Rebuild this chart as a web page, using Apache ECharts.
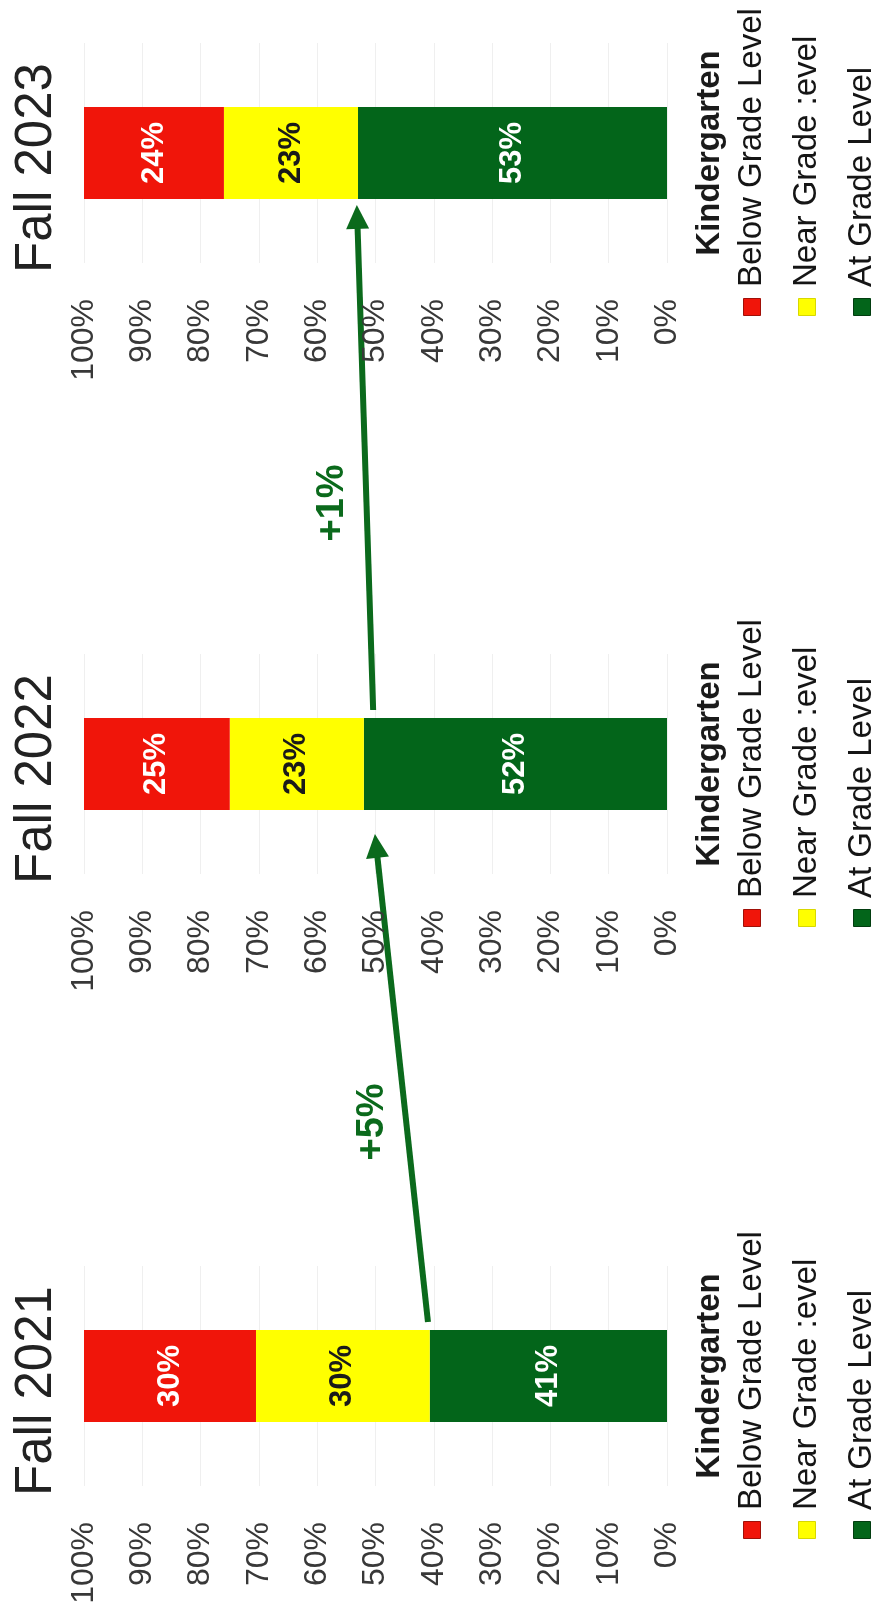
<!DOCTYPE html>
<html>
<head>
<meta charset="utf-8">
<script src="https://cdn.jsdelivr.net/npm/echarts@6/dist/echarts.min.js"></script>
<style>
  html, body { margin: 0; padding: 0; background: #ffffff; }
  #chart { width: 874px; height: 1612px; }
</style>
</head>
<body>
<div id="chart"></div>
<script>
// ---------- data ----------
const seasons = ['Fall 2021', 'Fall 2022', 'Fall 2023'];
const categories = ['Kindergarten'];
const seriesNames = ['Below Grade Level', 'Near Grade :evel', 'At Grade Level'];
const belowGrade = [29.5, 25, 24];
const nearGrade = [29.8, 23, 23];
const atGrade = [40.7, 52, 53];
const changeLabels = ['+5%', '+1%'];
const changeFrom = [41, 50.4];
const changeTo = [50.1, 53.2];

// ---------- layout / style ----------
const FONT = 'Liberation Sans, Arial, Helvetica, sans-serif';
const ROT = Math.PI / 2;
const panelCenter = [1376, 764, 153];
const plotLeft = 84, plotWidth = 583, plotHalf = 110, barW = 92;
const colors = { below: '#f0150a', near: '#ffff00', at: '#03651a' };
const arrowColor = '#0b6a1c';
const tipGap = [24, 6];

const chart = echarts.init(document.getElementById('chart'));

const grids = [], xAxes = [], yAxes = [], series = [];
seasons.forEach((s, k) => {
  const c = panelCenter[k];
  grids.push({ left: plotLeft, width: plotWidth, top: c - plotHalf, height: plotHalf * 2, containLabel: false, outerBoundsMode: 'none' });
  xAxes.push({
    type: 'value', gridIndex: k, min: 0, max: 100, interval: 10, inverse: true,
    axisLine: { show: false }, axisTick: { show: false },
    splitLine: { show: true, lineStyle: { color: '#efefef', width: 1 } },
    axisLabel: { formatter: '{value}%', rotate: 90, margin: 36, fontSize: 32, color: '#383838', fontFamily: FONT }
  });
  yAxes.push({
    type: 'category', gridIndex: k, data: categories, position: 'right',
    axisLine: { show: false }, axisTick: { show: false },
    axisLabel: { rotate: 90, align: 'center', verticalAlign: 'middle', margin: 43,
      fontSize: 33, fontWeight: 'bold', color: '#1a1a1a', fontFamily: FONT }
  });
  const seg = (name, vals, color, labelColor) => ({
    type: 'bar', name: name, xAxisIndex: k, yAxisIndex: k, stack: 'p' + k,
    barWidth: barW, data: [vals[k]],
    itemStyle: { color: color },
    label: { show: true, position: 'inside', rotate: 90,
      formatter: p => Math.round(p.value) + '%',
      color: labelColor, fontSize: 31, fontWeight: 'bold', fontFamily: FONT },
    emphasis: { disabled: true }
  });
  series.push(seg(seriesNames[2], atGrade, colors.at, '#ffffff'));
  series.push(seg(seriesNames[1], nearGrade, colors.near, '#1a1a1a'));
  series.push(seg(seriesNames[0], belowGrade, colors.below, '#ffffff'));
});

chart.setOption({
  animation: false,
  backgroundColor: '#ffffff',
  grid: grids, xAxis: xAxes, yAxis: yAxes, series: series
});

// ---------- annotations (titles, legends, arrows) ----------
const g = [];
const legendColors = [colors.below, colors.near, colors.at];
const legendStroke = ['#a01008', '#d8d800', '#023d10'];
seasons.forEach((s, k) => {
  const c = panelCenter[k];
  g.push({ type: 'text', x: 37, y: c + 15, rotation: ROT,
    style: { text: s, font: '51px ' + FONT, fill: '#222222', align: 'center', verticalAlign: 'middle' } });
  seriesNames.forEach((n, i) => {
    const lx = plotLeft + plotWidth + 85 + i * 55;
    g.push({ type: 'rect', x: lx, y: c + 154, shape: { x: -8.5, y: -8.5, width: 17, height: 17 },
      style: { fill: legendColors[i], stroke: legendStroke[i], lineWidth: 1 } });
    g.push({ type: 'text', x: lx, y: c + 134, rotation: ROT,
      style: { text: n, font: '33px ' + FONT, fill: '#151515', align: 'left', verticalAlign: 'middle' } });
  });
});

changeLabels.forEach((lab, k) => {
  const x1 = chart.convertToPixel({ xAxisIndex: k }, changeFrom[k]);
  const y1 = panelCenter[k] - barW / 2 - 8;
  const x2 = chart.convertToPixel({ xAxisIndex: k + 1 }, changeTo[k]);
  const y2 = panelCenter[k + 1] + barW / 2 + tipGap[k];
  const dx = x2 - x1, dy = y2 - y1, len = Math.hypot(dx, dy);
  const ux = dx / len, uy = dy / len, nx = -uy, ny = ux;
  const headL = 24, headW = 23;
  const bx = x2 - ux * headL, by = y2 - uy * headL;
  g.push({ type: 'line', shape: { x1: x1, y1: y1, x2: bx + ux * 2, y2: by + uy * 2 },
    style: { stroke: arrowColor, lineWidth: 6 } });
  g.push({ type: 'polygon', shape: { points: [[x2, y2], [bx + nx * headW / 2, by + ny * headW / 2], [bx - nx * headW / 2, by - ny * headW / 2]] },
    style: { fill: arrowColor } });
  const t = 0.41;
  g.push({ type: 'text', x: x1 + dx * t - 34, y: y1 + dy * t, rotation: ROT,
    style: { text: lab, font: 'bold 38px ' + FONT, fill: '#0b6a1c', align: 'center', verticalAlign: 'middle' } });
});

chart.setOption({ graphic: g });
</script>
</body>
</html>
